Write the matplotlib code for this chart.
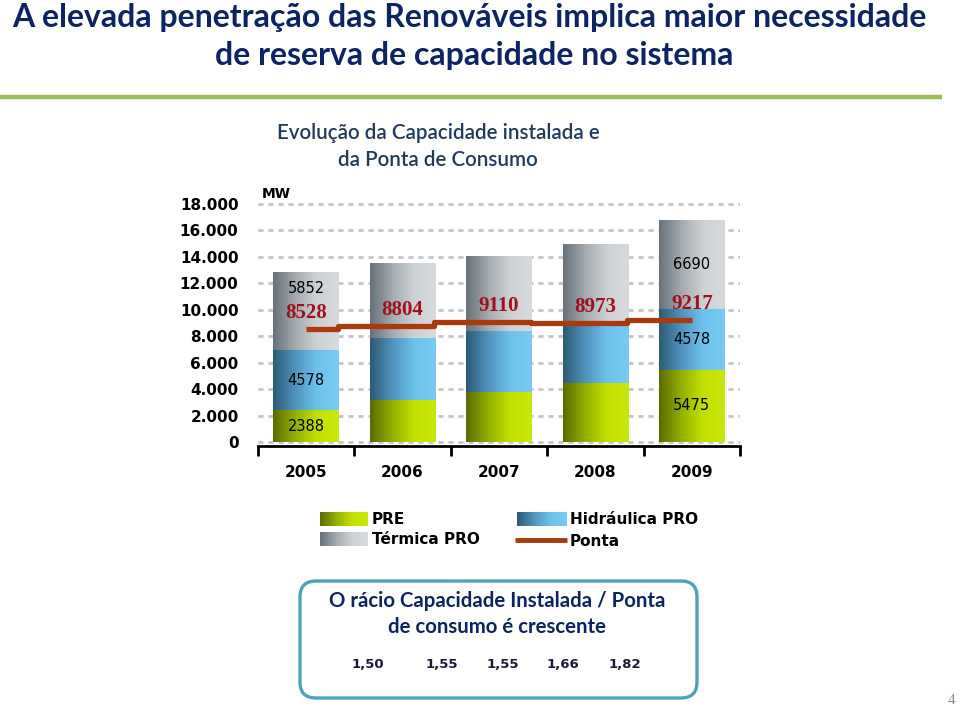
import numpy as np
import matplotlib.pyplot as plt
from matplotlib.colors import LinearSegmentedColormap
from matplotlib.patches import FancyBboxPatch

# data (MW)
years = ['2005', '2006', '2007', '2008', '2009']
pre = [2388, 3180, 3800, 4490, 5475]
hidraulica = [4578, 4650, 4620, 4360, 4578]
termica = [5852, 5670, 5600, 6100, 6690]
ponta = [8528, 8804, 9110, 8973, 9217]
ratios = ['1,50', '1,55', '1,55', '1,66', '1,82']
labelled_years = [0, 4]  # only these bars show the segment values
yticks = np.arange(0, 18001, 2000)

navy = '#0c2366'
cmap_pre = LinearSegmentedColormap.from_list('pre', ['#5c6a00', '#93b000', '#c2e000', '#cbe80c'])
cmap_hid = LinearSegmentedColormap.from_list('hid', ['#2e5a76', '#4f93bd', '#6cc2ec', '#78cbf2'])
cmap_ter = LinearSegmentedColormap.from_list('ter', ['#66717a', '#a3aaaf', '#cdd1d3', '#d8dbdd'])
ponta_col = '#a83a0c'

fig = plt.figure(figsize=(9.6, 7.1), dpi=100)

# overlay in pixel coords for the slide decoration
ov = fig.add_axes([0, 0, 1, 1])
ov.set_xlim(0, 960)
ov.set_ylim(710, 0)
ov.axis('off')

ax = fig.add_axes([258 / 960, 1 - 446 / 710, 482 / 960, 246 / 710])
x = np.arange(len(years))
grad = np.linspace(0, 1, 128).reshape(1, -1)

bottom = np.zeros(len(years))
for vals, cm in [(pre, cmap_pre), (hidraulica, cmap_hid), (termica, cmap_ter)]:
    bars = ax.bar(x, vals, bottom=bottom, width=0.68, color=cm(0.7), zorder=2)
    for r in bars:
        ax.imshow(grad, extent=[r.get_x(), r.get_x() + r.get_width(), r.get_y(), r.get_y() + r.get_height()],
                  cmap=cm, aspect='auto', interpolation='bilinear', zorder=2.1)
    bottom = bottom + np.array(vals)

# ponta as a stepped line, step a bit after each bar centre
px, py = [x[0]], [ponta[0]]
for i in range(1, len(ponta)):
    px += [x[i - 1] + 0.33, x[i - 1] + 0.33]
    py += [ponta[i - 1], ponta[i]]
px.append(x[-1])
py.append(ponta[-1])
ax.plot(px, py, color=ponta_col, lw=3.8, solid_capstyle='butt', zorder=4)

for i, p in enumerate(ponta):
    ax.text(x[i], p + 1200, str(p), ha='center', va='center', color='#a0101c',
            fontsize=15, fontweight='bold', family='Liberation Serif', zorder=5)

for i in labelled_years:
    b1 = pre[i]
    b2 = b1 + hidraulica[i]
    ax.text(x[i], b1 / 2, str(pre[i]), ha='center', va='center', fontsize=10.5, zorder=5)
    ax.text(x[i], b1 + hidraulica[i] / 2, str(hidraulica[i]), ha='center', va='center', fontsize=10.5, zorder=5)
    ty = max(b2 + termica[i] / 2, ponta[i] + 3100)
    ax.text(x[i], ty, str(termica[i]), ha='center', va='center', fontsize=10.5, zorder=5)

ax.set_xlim(-0.5, 4.5)
ax.set_ylim(-300, 18300)
ax.set_yticks(yticks)
ax.set_yticklabels(['0' if v == 0 else f'{v:,}'.replace(',', '.') for v in yticks],
                   fontsize=11, fontweight='bold')
ax.tick_params(axis='y', length=0, pad=14)
ax.set_xticks(x)
ax.set_xticklabels(years, fontsize=11, fontweight='bold')
ax.set_xticks(np.arange(-0.5, 5, 1), minor=True)
ax.tick_params(axis='x', which='major', length=0, pad=14)
ax.tick_params(axis='x', which='minor', length=7, width=2, direction='out', color='black')
ax.grid(axis='y', color='#c4c4c4', lw=2, linestyle=(0, (1.8, 1.8)), zorder=0)
ax.set_axisbelow(True)
for s in ['top', 'right', 'left']:
    ax.spines[s].set_visible(False)
ax.spines['bottom'].set_linewidth(2)
ax.patch.set_alpha(0)

# titles
ov.text(469, 18, 'A elevada penetração das Renováveis implica maior necessidade', ha='center', va='center',
        fontsize=23, fontweight='bold', color=navy, family='Lato')
ov.text(474, 56, 'de reserva de capacidade no sistema', ha='center', va='center',
        fontsize=23, fontweight='bold', color=navy, family='Lato')
ov.plot([0, 942], [97, 97], color='#9bbb59', lw=3.2, solid_capstyle='butt')
ov.text(438, 133, 'Evolução da Capacidade instalada e', ha='center', va='center',
        fontsize=14.8, fontweight='semibold', color='#1f3a5f', family='Lato')
ov.text(438, 160, 'da Ponta de Consumo', ha='center', va='center',
        fontsize=14.8, fontweight='semibold', color='#1f3a5f', family='Lato')
ov.text(262, 194, 'MW', ha='left', va='center', fontsize=10, fontweight='bold')

# legend
def swatch(cm, x0, y0, w=48, h=14):
    ov.imshow(grad, extent=[x0, x0 + w, y0 + h, y0], cmap=cm, aspect='auto', interpolation='bilinear')

swatch(cmap_pre, 320, 512)
swatch(cmap_ter, 320, 532)
swatch(cmap_hid, 517, 512, w=50)
ov.plot([515, 567], [540, 540], color=ponta_col, lw=3.5, solid_capstyle='butt')
leg_kw = dict(ha='left', va='center', fontsize=11, fontweight='bold')
ov.text(372, 519, 'PRE', **leg_kw)
ov.text(372, 540, 'Térmica PRO', **leg_kw)
ov.text(570, 519, 'Hidráulica PRO', **leg_kw)
ov.text(570, 541, 'Ponta', **leg_kw)
ov.set_xlim(0, 960)
ov.set_ylim(710, 0)

# ratio box
ov.add_patch(FancyBboxPatch((300, 581), 397, 117, boxstyle='round,pad=0,rounding_size=16',
                            fc='white', ec='#4fa3b6', lw=2.4))
ov.text(497, 601, 'O rácio Capacidade Instalada / Ponta', ha='center', va='center',
        fontsize=14.7, fontweight='bold', color=navy, family='Lato')
ov.text(497, 627, 'de consumo é crescente', ha='center', va='center',
        fontsize=14.7, fontweight='bold', color=navy, family='Lato')
ratio_x = [368, 442, 503, 563, 625]
for rx, r in zip(ratio_x, ratios):
    ov.text(rx, 664, r, ha='center', va='center', fontsize=9.5, fontweight='bold', color='#1a1a3a')

ov.text(952, 700, '4', ha='center', va='center', fontsize=11, color='#8c8c8c', family='Liberation Serif')

fig.savefig('out.png', dpi=100)
